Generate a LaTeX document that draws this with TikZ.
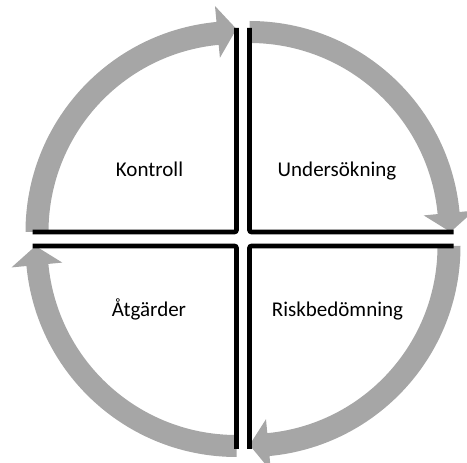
\documentclass[tikz,border=0pt]{standalone}
\usepackage{fontspec}
\setmainfont{Carlito}
\begin{document}
\begin{tikzpicture}[x=1pt,y=1pt,
  band/.style={fill=bandgray},
  edge/.style={draw=black,line width=4.6pt,rounded corners=2pt},
  lbl/.style={font=\fontsize{21}{25}\selectfont,anchor=base,inner sep=0pt}]
\definecolor{bandgray}{RGB}{166,166,166}
\useasboundingbox (0,0) rectangle (467,463);
% quadrant corners
\coordinate (TR) at (249.5,231);
\coordinate (TL) at (236.5,231);
\coordinate (BL) at (236.5,217);
\coordinate (BR) at (249.5,217);
\def\ha{5.44}
% TR band: 90 -> 0
\fill[band] ([shift={(TR)}]90:211) arc[start angle=90,end angle=\ha,radius=211]
  -- ([shift={(TR)}]\ha:226) -- ([shift={(TR)}]0:201) -- ([shift={(TR)}]\ha:175)
  -- ([shift={(TR)}]\ha:189) arc[start angle=\ha,end angle=90,radius=189] -- cycle;
% BR band: 0 -> -90
\fill[band] ([shift={(BR)}]0:211) arc[start angle=0,end angle=-90+\ha,radius=211]
  -- ([shift={(BR)}]-90+\ha:226) -- ([shift={(BR)}]-90:199) -- ([shift={(BR)}]-90+\ha:174)
  -- ([shift={(BR)}]-90+\ha:188) arc[start angle=-90+\ha,end angle=0,radius=188] -- cycle;
% BL band: 270 -> 180
\fill[band] ([shift={(BL)}]270:211) arc[start angle=270,end angle=180+\ha,radius=211]
  -- ([shift={(BL)}]180+\ha:226) -- ([shift={(BL)}]180:201) -- ([shift={(BL)}]180+\ha:175)
  -- ([shift={(BL)}]180+\ha:189) arc[start angle=180+\ha,end angle=270,radius=189] -- cycle;
% TL band: 180 -> 90
\fill[band] ([shift={(TL)}]180:211) arc[start angle=180,end angle=90+\ha,radius=211]
  -- ([shift={(TL)}]90+\ha:227) -- ([shift={(TL)}]90:203) -- ([shift={(TL)}]90+\ha:175)
  -- ([shift={(TL)}]90+\ha:188) arc[start angle=90+\ha,end angle=180,radius=188] -- cycle;
% black edges
\coordinate (TRa) at ([shift={(TR)}]90:204);
\coordinate (TRb) at ([shift={(TR)}]0:204);
\coordinate (BRa) at ([shift={(BR)}]0:204);
\coordinate (BRb) at ([shift={(BR)}]-90:203);
\coordinate (BLa) at ([shift={(BL)}]270:203);
\coordinate (BLb) at ([shift={(BL)}]180:204);
\coordinate (TLa) at ([shift={(TL)}]180:204);
\coordinate (TLb) at ([shift={(TL)}]90:204);
\draw[edge] (TRa) -- (TR) -- (TRb);
\draw[edge] (BRa) -- (BR) -- (BRb);
\draw[edge] (BLa) -- (BL) -- (BLb);
\draw[edge] (TLa) -- (TL) -- (TLb);
% labels
\node[lbl] (kon) at (149.5,286) {Kontroll};
\node[lbl] (und) at (337,286) {Undersökning};
\node[lbl] (atg) at (149,146) {Åtgärder};
\node[lbl] (risk) at (337.5,146) {Riskbedömning};
\end{tikzpicture}
\end{document}
